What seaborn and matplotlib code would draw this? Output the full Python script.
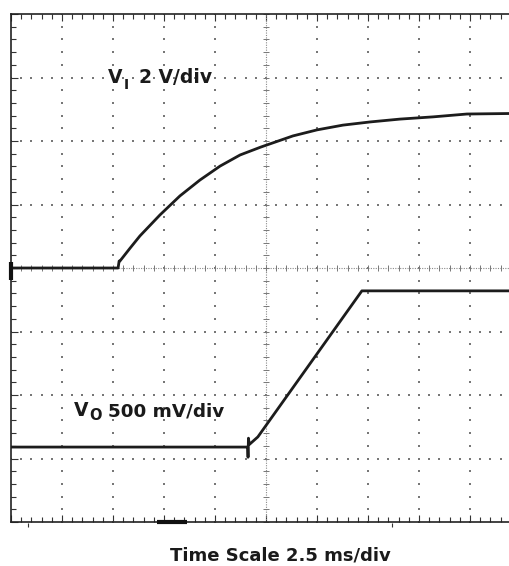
import matplotlib
matplotlib.use("Agg")
import matplotlib.pyplot as plt
import seaborn as sns
import numpy as np
import pandas as pd

# ---- data (read from the oscilloscope capture) ----
t_vi = [0.0, 5.25, 5.30, 5.34, 5.83, 6.32, 7.30, 8.28, 9.26, 10.25, 11.23, 12.25,
        13.82, 15.00, 16.27, 17.60, 19.07, 20.69, 22.35, 25.00]
v_vi = [0.0, 0.0, 0.22, 0.22, 0.62, 1.01, 1.67, 2.27, 2.77, 3.21, 3.56, 3.81,
        4.16, 4.35, 4.50, 4.60, 4.69, 4.76, 4.85, 4.87]
t_vo = [0.0, 11.60, 11.62, 11.64, 11.68, 12.10, 17.20, 25.00]
v_vo = [0.0, 0.0, -0.08, 0.07, 0.02, 0.08, 1.23, 1.23]

vi_per_div = 2.0       # V/div
vo_per_div = 0.5       # V/div
vi_ground = 0.0        # divisions
vo_ground = -2.82      # divisions

label_vi = ("V", "I", "2 V/div")
label_vo = ("V", "O", "500 mV/div")
xlabel = "Time Scale 2.5 ms/div"

# ---- figure ----
W, H = 510, 566
DPI = 100
sns.set_style("white")
plt.rcParams["font.family"] = ["DejaVu Sans"]

fig = plt.figure(figsize=(W / DPI, H / DPI), dpi=DPI)
left_px, right_px, top_px, bot_px = 11, 521, 14, 522
ax = fig.add_axes([left_px / W, 1 - bot_px / H, (right_px - left_px) / W, (bot_px - top_px) / H])
ax.set_xlim(0, 25)
ax.set_ylim(-4, 4)

GRID = "#777777"
# dotted graticule: dots at subdivisions along each major line
sub_x = np.arange(0, 25.001, 0.5)
sub_y = np.arange(-4, 4.001, 0.2)
for k in range(1, 10):
    if k == 5:
        continue
    xs = np.full_like(sub_y, k * 2.5)
    ax.scatter(xs, sub_y, s=1.1, marker="s", color=GRID, linewidths=0, zorder=1)
for j in range(-3, 4):
    if j == 0:
        continue
    ys = np.full_like(sub_x, float(j))
    ax.scatter(sub_x, ys, s=1.1, marker="s", color=GRID, linewidths=0, zorder=1)
# centre lines
ax.axhline(0, color="#8a8a8a", lw=0.8, ls=(0, (1, 1.2)), zorder=1)
ax.axvline(12.5, color="#8a8a8a", lw=0.8, ls=(0, (1, 1.2)), zorder=1)
ax.plot(sub_x, np.zeros_like(sub_x), ls="none", marker="|", ms=4, mew=0.7, color=GRID, zorder=1)
ax.plot(np.full_like(sub_y, 12.5), sub_y, ls="none", marker="_", ms=4, mew=0.7, color=GRID, zorder=1)

# border ticks
ax.set_xticks(np.arange(0, 25.001, 2.5))
ax.set_xticks(sub_x, minor=True)
ax.set_yticks(np.arange(-4, 4.001, 1))
ax.set_yticks(sub_y, minor=True)
ax.tick_params(which="both", direction="in", top=True, bottom=True, left=True, right=False,
               labelbottom=False, labelleft=False, color="#333333", width=0.8)
ax.tick_params(which="major", length=5)
ax.tick_params(which="minor", length=3.5)
for s in ["left", "top", "bottom"]:
    ax.spines[s].set_color("#222222")
    ax.spines[s].set_linewidth(1.2)
ax.spines["right"].set_visible(False)

# traces
df_vi = pd.DataFrame({"t": t_vi, "div": np.array(v_vi) / vi_per_div + vi_ground})
df_vo = pd.DataFrame({"t": t_vo, "div": np.array(v_vo) / vo_per_div + vo_ground})
TR = "#1c1c1c"
sns.lineplot(data=df_vi, x="t", y="div", ax=ax, color=TR, lw=2.0, sort=False, estimator=None, zorder=3)
sns.lineplot(data=df_vo, x="t", y="div", ax=ax, color=TR, lw=2.0, sort=False, estimator=None, zorder=3)
ax.set_xlabel("")
ax.set_ylabel("")

# markers on the frame (ground marker / trigger marker / small position marks)
ax.plot([0, 0], [-0.19, 0.09], color="#111111", lw=3, clip_on=False, zorder=5, solid_capstyle="butt")
ax.plot([7.16, 8.63], [-4.0, -4.0], color="#111111", lw=3, clip_on=False, zorder=5, solid_capstyle="butt")
ax.plot([0.83, 18.7], [-4.04, -4.04], ls="none", marker="|", ms=3, mew=0.8, color="#333333",
        clip_on=False, zorder=5)

TXT = "#1a1a1a"


def ftext(px, py, s, size, ha="left"):
    fig.text(px / W, 1 - py / H, s, fontsize=size, fontweight="bold", color=TXT,
             ha=ha, va="baseline", zorder=6)


# channel labels (pixel anchors: main glyph, subscript, value text)
ftext(108, 83, label_vi[0], 13.5)
ftext(124, 89, label_vi[1], 10)
ftext(139, 83, label_vi[2], 13.5)

ftext(74, 416, label_vo[0], 13.5)
ftext(89, 420, label_vo[1], 10.5)
ftext(108, 416, label_vo[2], 13.2)

ftext(280, 560, xlabel, 13, ha="center")

fig.savefig("out.png", dpi=DPI)
